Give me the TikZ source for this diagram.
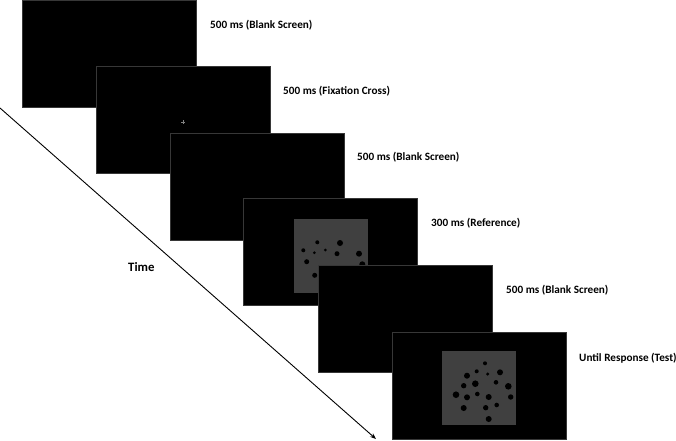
\documentclass[tikz,border=0pt]{standalone}
\usepackage{fontspec}
\setmainfont{Carlito}
\usetikzlibrary{arrows.meta}
\definecolor{panelgray}{RGB}{64,64,64}
\definecolor{edgegray}{RGB}{55,55,55}
\definecolor{crossgray}{RGB}{130,130,130}
\tikzset{
  screen/.style={draw=edgegray, line width=0.7pt, fill=black, anchor=north west,
    minimum width=174pt, minimum height=107pt, inner sep=0pt, outer sep=0pt},
  stim/.style={fill=panelgray, draw=none, minimum width=74pt, minimum height=74pt,
    inner sep=0pt, outer sep=0pt},
  lbl/.style={anchor=west, font=\bfseries\fontsize{11.2}{13}\selectfont, inner sep=0pt},
  timelbl/.style={anchor=west, font=\bfseries\fontsize{12.8}{15}\selectfont, inner sep=0pt},
  dot/.style={fill=black},
}
\begin{document}
\begin{tikzpicture}[x=1pt,y=-1pt]
\useasboundingbox (0,0) rectangle (676,440);
% time arrow
\coordinate (t0) at (0,108);
\coordinate (t1) at (376,439);
\draw[line width=0.9pt, -{Stealth[length=6pt,width=4.5pt]}] (t0) -- (t1);
\node[timelbl] (time) at (128,267) {Time};
% screen 1
\node[screen] (s1) at (22,0) {};
% screen 2
\node[screen] (s2) at (96,66) {};
\draw[crossgray, line width=0.35pt] (181,122) -- (185,122) (183,120) -- (183,124);
% screen 3
\node[screen] (s3) at (170,133) {};
% screen 4
\node[screen] (s4) at (243,198) {};
\node[stim] (p4) at (330.5,256) {};
\foreach \x/\y/\r in {317.3/242.3/2, 340/243/3, 303.3/250.3/2, 314.3/252.7/1.5, 325.3/250/1.5,
  337/253.7/2.5, 359/253.7/3, 306.7/261.7/2.5, 362.3/264.3/3, 314.7/275.3/2.5}
  \fill[dot] (\x,\y) circle (\r);
% screen 5
\node[screen] (s5) at (318,265) {};
% screen 6
\node[screen] (s6) at (392,332) {};
\node[stim] (p6) at (479,387.5) {};
\foreach \x/\y/\r in {485/363.3/2, 476.7/371.3/2, 500/372.3/3, 467/375.7/3, 487.7/374/1.7,
  463.7/385.7/2.7, 475.3/383.7/3.3, 496/382.3/2.3, 508.3/386.3/3.3, 456/394.7/3.3,
  467/397.3/3, 477.3/394/2.3, 488.7/397/3, 510.7/397/2.7, 463.7/408/3, 485.7/407.7/2.7,
  496.7/405/2.3, 488.7/419/3}
  \fill[dot] (\x,\y) circle (\r);
% labels
\node[lbl] (l1) at (210,25) {500 ms (Blank Screen)};
\node[lbl] (l2) at (283,91) {500 ms (Fixation Cross)};
\node[lbl] (l3) at (357,157) {500 ms (Blank Screen)};
\node[lbl] (l4) at (431,223) {300 ms (Reference)};
\node[lbl] (l5) at (506,290) {500 ms (Blank Screen)};
\node[lbl] (l6) at (579,358) {Until Response (Test)};
\end{tikzpicture}
\end{document}
